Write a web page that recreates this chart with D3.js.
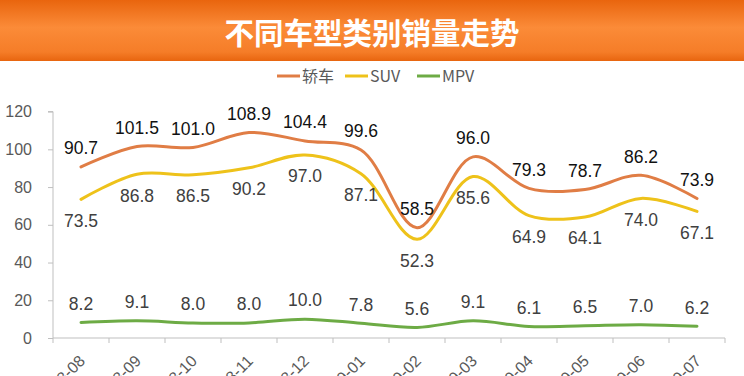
<!DOCTYPE html>
<html>
<head>
<meta charset="utf-8">
<script src="https://cdn.jsdelivr.net/npm/d3@7"></script>
<style>
  html, body { margin: 0; padding: 0; background: #fff; }
  svg { display: block; font-family: Arial, "Liberation Sans", sans-serif; }
</style>
</head>
<body>
<div id="chart"></div>
<script>
// values
const months = ["2018-08", "2018-09", "2018-10", "2018-11", "2018-12", "2019-01",
                "2019-02", "2019-03", "2019-04", "2019-05", "2019-06", "2019-07"];
const sedan = [90.7, 101.5, 101.0, 108.9, 104.4, 99.6, 58.5, 96.0, 79.3, 78.7, 86.2, 73.9];
const suv = [73.5, 86.8, 86.5, 90.2, 97.0, 87.1, 52.3, 85.6, 64.9, 64.1, 74.0, 67.1];
const mpv = [8.2, 9.1, 8.0, 8.0, 10.0, 7.8, 5.6, 9.1, 6.1, 6.5, 7.0, 6.2];
const yTicks = [0, 20, 40, 60, 80, 100, 120];

const series = [
    {name: "轿车", values: sedan, color: "#E07D45", labelPos: "above", labelColor: "#111"},
    {name: "SUV", values: suv, color: "#EEC21A", labelPos: "below", labelColor: "#404040"},
    {name: "MPV", values: mpv, color: "#6DAB45", labelPos: "above", labelColor: "#404040"}
];

const W = 744, H = 376;
const svg = d3.select("#chart").append("svg").attr("width", W).attr("height", H);

// title bar with a vertical orange gradient
const grad = svg.append("defs").append("linearGradient")
    .attr("id", "titleGrad").attr("x1", 0).attr("y1", 0).attr("x2", 0).attr("y2", 1);
grad.append("stop").attr("offset", "0%").attr("stop-color", "#E9650E");
grad.append("stop").attr("offset", "45%").attr("stop-color", "#FB8B38");
grad.append("stop").attr("offset", "85%").attr("stop-color", "#F57D28");
grad.append("stop").attr("offset", "100%").attr("stop-color", "#E8650F");
svg.append("rect").attr("x", 0).attr("y", 0).attr("width", W).attr("height", 61)
    .attr("fill", "url(#titleGrad)");
svg.append("text").attr("x", W / 2).attr("y", 33).attr("dy", "0.36em")
    .attr("text-anchor", "middle").attr("fill", "#fff")
    .attr("font-family", "'Noto Sans CJK SC', sans-serif").attr("font-weight", "bold")
    .attr("font-size", 29.5).text("不同车型类别销量走势");

// legend
const legend = svg.append("g").attr("transform", "translate(277,76)");
const legendX = [0, 68, 140];
series.forEach((s, i) => {
    const lx = legendX[i];
    legend.append("line").attr("x1", lx).attr("x2", lx + 23).attr("y1", 0).attr("y2", 0)
        .attr("stroke", s.color).attr("stroke-width", 3);
    legend.append("text").attr("x", lx + 25).attr("y", 0).attr("dy", "0.35em")
        .attr("fill", "#595959").attr("font-size", 16)
        .attr("font-family", "'Noto Sans CJK SC', sans-serif").text(s.name);
});

// scales
const x = d3.scaleBand().domain(months).range([53, 725]);
const y = d3.scaleLinear().domain([0, 120]).range([338, 111.6]);
const cx = d => x(d) + x.bandwidth() / 2;

// y axis
const yAxis = svg.append("g").attr("transform", "translate(53,0)")
    .call(d3.axisLeft(y).tickValues(yTicks).tickSize(5).tickPadding(16));
yAxis.select(".domain").attr("stroke", "#BFBFBF").attr("d", `M-5,${y(120)}H0V${y(0)}`);
yAxis.selectAll(".tick line").attr("stroke", "#BFBFBF");
yAxis.selectAll(".tick text").attr("fill", "#595959").attr("font-size", 16)
    .attr("font-family", "Arial, 'Liberation Sans', sans-serif");

// x axis: ticks sit between categories
const xAxis = svg.append("g").attr("transform", `translate(0,${y(0)})`);
xAxis.append("line").attr("x1", 53).attr("x2", 725).attr("y1", 0).attr("y2", 0)
    .attr("stroke", "#BFBFBF");
xAxis.selectAll("line.tk").data(d3.range(months.length + 1)).join("line").attr("class", "tk")
    .attr("x1", i => 53 + i * x.bandwidth()).attr("x2", i => 53 + i * x.bandwidth())
    .attr("y1", 0).attr("y2", 5).attr("stroke", "#BFBFBF");
xAxis.selectAll("text").data(months).join("text")
    .attr("transform", d => `translate(${cx(d) + 1},${20}) rotate(-45)`)
    .attr("text-anchor", "end").attr("dy", "0.35em")
    .attr("fill", "#595959").attr("font-size", 16)
    .attr("font-family", "Arial, 'Liberation Sans', sans-serif").text(d => d);

// lines
const line = d3.line().x((d, i) => cx(months[i])).y(d => y(d)).curve(d3.curveCatmullRom.alpha(0.5));
series.forEach(s => {
    svg.append("path").datum(s.values).attr("d", line)
        .attr("fill", "none").attr("stroke", s.color).attr("stroke-width", 3)
        .attr("stroke-linecap", "round");
});

// data labels
series.forEach(s => {
    svg.append("g").selectAll("text").data(s.values).join("text")
        .attr("x", (d, i) => cx(months[i]))
        .attr("y", d => y(d) + (s.labelPos === "above" ? -19 : 21))
        .attr("dy", "0.36em").attr("text-anchor", "middle")
        .attr("fill", s.labelColor).attr("font-size", 17.5)
        .attr("font-family", "Arial, 'Liberation Sans', sans-serif")
        .text(d => d.toFixed(1));
});
</script>
</body>
</html>
